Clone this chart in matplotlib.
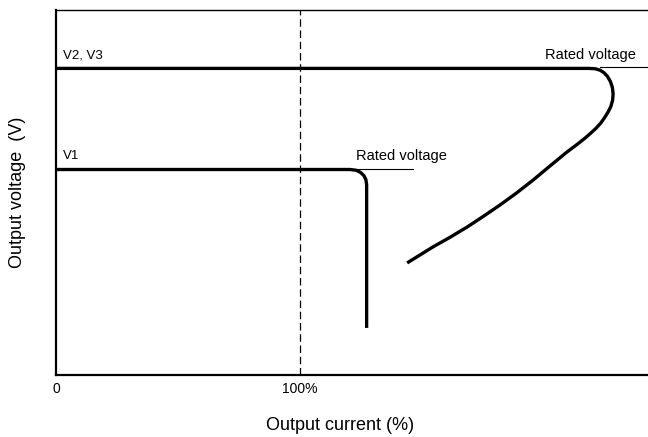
import matplotlib
matplotlib.use('Agg')
import matplotlib.pyplot as plt

plt.rcParams['font.family'] = ['Liberation Sans', 'DejaVu Sans']
narrow = ['Liberation Sans Narrow', 'DejaVu Sans Condensed', 'Liberation Sans', 'DejaVu Sans']

# output current in %, voltage in % of plot height
v1_current = [0, 120.5, 123.0, 124.8, 126.2, 127.0, 127.3, 127.3]
v1_voltage = [56.3, 56.3, 56.1, 55.5, 54.6, 53.5, 52.1, 12.9]

v23_current = [0, 218.5, 221.0, 223.0, 224.6, 226.0, 227.2, 228.0, 228.3, 228.1,
               227.4, 226.2, 224.8, 223.2, 221.3, 219.2, 216.8, 213.2, 209.4,
               202.5, 195.5, 188.8, 182.0, 175.2, 168.4, 161.4, 154.5, 143.9]
v23_voltage = [84.0, 84.0, 83.9, 83.5, 82.8, 81.8, 80.4, 78.8, 77.0, 75.3,
               73.6, 72.0, 70.5, 69.0, 67.6, 66.3, 64.9, 63.0, 61.1,
               57.3, 53.4, 49.9, 46.6, 43.5, 40.5, 37.7, 35.1, 30.7]

rated_v1 = [123.5, 146.3]
rated_v23 = [223.0, 242.6]

x_ticks = [0, 100]
x_ticklabels = ['0', '100%']

fig = plt.figure(figsize=(6.48, 4.37), dpi=100)
ax = fig.add_axes([0.0864, 0.1419, 0.9136, 0.8352])

ax.plot(v1_current, v1_voltage, color='black', lw=2.4, solid_capstyle='butt', solid_joinstyle='round')
ax.plot(v23_current, v23_voltage, color='black', lw=2.4, solid_capstyle='butt', solid_joinstyle='round')

# thin rated-voltage markers
ax.plot(rated_v1, [v1_voltage[0] + 0.2] * 2, color='black', lw=0.8)
ax.plot(rated_v23, [v23_voltage[0] + 0.3] * 2, color='black', lw=0.8)
ax.text(123.0, 58.0, 'Rated voltage', fontsize=10.5, ha='left', va='bottom')
ax.text(200.5, 85.8, 'Rated voltage', fontsize=10.5, ha='left', va='bottom')

ax.text(3.0, 58.3, 'V1', fontsize=9.5, ha='left', va='bottom', family=narrow)
ax.text(3.0, 86.0, 'V2, V3', fontsize=9.5, ha='left', va='bottom', family=narrow)

ax.axvline(100, color='black', lw=0.9, ls=(0, (6, 3)))

ax.set_xlim(0, 242.6)
ax.set_ylim(0, 100)
ax.set_xticks(x_ticks)
ax.set_xticklabels(x_ticklabels, family=narrow, fontsize=10)
ax.set_yticks([])
ax.tick_params(axis='x', length=0, pad=5)

ax.spines['right'].set_visible(False)
ax.spines['left'].set_linewidth(1.6)
ax.spines['bottom'].set_linewidth(1.6)
ax.spines['top'].set_linewidth(1.0)

ax.set_xlabel('Output current (%)', fontsize=13)
ax.xaxis.set_label_coords(0.48, -0.115)
ax.set_ylabel('Output voltage  (V)', fontsize=13)
ax.yaxis.set_label_coords(-0.05, 0.5)

plt.savefig('out.png', dpi=100)
